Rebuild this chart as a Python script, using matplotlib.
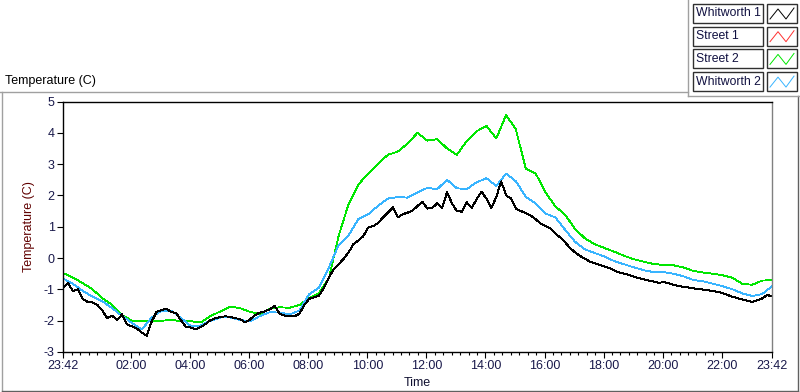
import numpy as np
import matplotlib
matplotlib.use("Agg")
import matplotlib.pyplot as plt
from matplotlib.lines import Line2D
from matplotlib.patches import Rectangle
from matplotlib.ticker import FixedLocator, FixedFormatter

# Fonte mais estreita, parecida com a do painel original
plt.rcParams["font.family"] = ["Liberation Sans", "DejaVu Sans"]

# Nomes das séries (legenda) e cores
nomes = ["Whitworth 1", "Street 1", "Street 2", "Whitworth 2"]
cores = ["#000000", "#ff3030", "#00e600", "#38b4ff"]

# Rótulos do eixo do tempo (início 23:42, ticks a cada 2 horas, fim 23:42)
rotulos_tempo = ["23:42", "02:00", "04:00", "06:00", "08:00", "10:00", "12:00",
                 "14:00", "16:00", "18:00", "20:00", "22:00", "23:42"]

# Whitworth 1: leitura a cada 10 minutos desde 23:42
whitworth1 = [
    -0.95, -0.80, -1.05, -1.00, -1.30, -1.40, -1.42, -1.50, -1.68, -1.92,
    -1.84, -1.98, -1.80, -2.12, -2.18, -2.25, -2.38, -2.48, -2.03, -1.72,
    -1.66, -1.62, -1.72, -1.76, -2.00, -2.20, -2.22, -2.28, -2.20, -2.10,
    -1.98, -1.92, -1.88, -1.86, -1.88, -1.92, -1.95, -2.06, -1.96, -1.82,
    -1.74, -1.70, -1.64, -1.53, -1.78, -1.84, -1.86, -1.86, -1.78, -1.50,
    -1.30, -1.25, -1.20, -0.95, -0.62, -0.35, -0.20, -0.02, 0.18, 0.45,
    0.56, 0.70, 0.98, 1.02, 1.12, 1.30, 1.45, 1.62, 1.30, 1.40,
    1.45, 1.52, 1.66, 1.80, 1.58, 1.60, 1.75, 1.60, 2.10, 1.75,
    1.50, 1.48, 1.78, 1.60, 1.88, 2.12, 1.90, 1.60, 1.95, 2.45,
    2.00, 1.90, 1.58, 1.50, 1.44, 1.36, 1.24, 1.10, 1.02, 0.95,
    0.78, 0.66, 0.50, 0.32, 0.18, 0.07, -0.02, -0.11, -0.16, -0.22,
    -0.27, -0.32, -0.40, -0.46, -0.50, -0.54, -0.60, -0.64, -0.68, -0.72,
    -0.75, -0.79, -0.77, -0.80, -0.86, -0.89, -0.92, -0.94, -0.97, -0.98,
    -1.01, -1.03, -1.05, -1.08, -1.12, -1.18, -1.24, -1.28, -1.32, -1.36,
    -1.40, -1.35, -1.29, -1.18, -1.22,
]

# Street 1: sem dados visíveis no gráfico
street1 = []

# Street 2: leitura a cada 20 minutos desde 23:42
street2 = [
    -0.48, -0.62, -0.80, -1.00, -1.28, -1.50, -1.82, -2.00, -2.01, -2.01,
    -2.00, -1.98, -2.01, -2.02, -2.05, -1.85, -1.70, -1.55, -1.60, -1.72,
    -1.78, -1.62, -1.57, -1.59, -1.50, -1.28, -1.12, -0.65, 0.72, 1.72,
    2.35, 2.70, 3.02, 3.30, 3.40, 3.66, 4.00, 3.75, 3.80, 3.50,
    3.30, 3.74, 4.05, 4.22, 3.82, 4.57, 4.10, 2.85, 2.70, 2.10,
    1.65, 1.38, 0.93, 0.63, 0.44, 0.32, 0.20, 0.07, -0.04, -0.12,
    -0.19, -0.22, -0.23, -0.30, -0.41, -0.46, -0.50, -0.55, -0.63, -0.83,
    -0.85, -0.72, -0.70,
]

# Whitworth 2: leitura a cada 20 minutos desde 23:42
whitworth2 = [
    -0.65, -0.82, -1.05, -1.23, -1.38, -1.60, -1.85, -2.07, -2.28, -1.90,
    -1.68, -1.68, -1.92, -2.18, -2.15, -2.00, -1.90, -1.90, -1.98, -2.02,
    -1.85, -1.73, -1.74, -1.80, -1.68, -1.15, -0.94, -0.30, 0.42, 0.72,
    1.25, 1.40, 1.67, 1.90, 1.95, 1.93, 2.10, 2.24, 2.20, 2.50,
    2.23, 2.20, 2.42, 2.55, 2.30, 2.70, 2.45, 1.95, 1.75, 1.42,
    1.30, 0.90, 0.52, 0.28, 0.16, 0.05, -0.10, -0.20, -0.30, -0.39,
    -0.45, -0.45, -0.50, -0.58, -0.70, -0.74, -0.82, -0.90, -1.00, -1.13,
    -1.21, -1.15, -0.90,
]


def fx(x):
    # Converte pixel horizontal em coordenada da figura
    return x / 800


def fy(y):
    # Converte pixel vertical em coordenada da figura
    return 1 - y / 392


def desenhar_moldura(fig):
    # Linhas cinzas da moldura do painel (estilo LabVIEW)
    cinza = "#a0a0a0"
    fig.add_artist(Line2D([fx(0), fx(688)], [fy(91.5), fy(91.5)], color=cinza, lw=1))
    fig.add_artist(Line2D([fx(1.5), fx(1.5)], [fy(91.5), fy(390.5)], color=cinza, lw=1))
    fig.add_artist(Line2D([fx(1.5), fx(797.5)], [fy(390.5), fy(390.5)], color="#606060", lw=1))
    fig.add_artist(Line2D([fx(797.5), fx(797.5)], [fy(95.5), fy(390.5)], color="#606060", lw=1))
    fig.add_artist(Line2D([fx(688), fx(688)], [fy(0), fy(95.5)], color=cinza, lw=1))
    fig.add_artist(Line2D([fx(688), fx(800)], [fy(95.5), fy(95.5)], color=cinza, lw=1))

    # Título do gráfico no canto superior esquerdo
    fig.text(fx(5), fy(81), "Temperature (C)", fontsize=9, color="#000000",
             ha="left", va="center")


def desenhar_legenda(fig):
    # Legenda com caixas de texto e amostras em zigue-zague
    for i, (nome, cor) in enumerate(zip(nomes, cores)):
        topo = 4 + i * 22.7
        alt = 19
        fig.add_artist(Rectangle((fx(693), fy(topo + alt)), fx(763) - fx(693),
                                 fy(topo) - fy(topo + alt), fill=True,
                                 facecolor="white", edgecolor="#303030", lw=1))
        fig.text(fx(695.5), fy(topo + alt / 2), nome, fontsize=8.8, color="#101040",
                 ha="left", va="center")
        fig.add_artist(Rectangle((fx(767), fy(topo + alt)), fx(797) - fx(767),
                                 fy(topo) - fy(topo + alt), fill=True,
                                 facecolor="white", edgecolor="#303030", lw=1))
        zx = [770, 778, 786, 794]
        zy = [topo + 15, topo + 5, topo + 15, topo + 4]
        fig.add_artist(Line2D([fx(v) for v in zx], [fy(v) for v in zy],
                              color=cor, lw=0.7))


def gerar_grafico():
    # Figura do mesmo tamanho da referência
    fig = plt.figure(figsize=(8, 3.92), dpi=100)
    ax = fig.add_axes([fx(63), fy(352), fx(772) - fx(63), fy(101.5) - fy(352)])

    # Eixos de tempo (horas desde 23:42) para cada série
    t_10min = np.arange(len(whitworth1)) / 6
    t_20min = np.arange(len(street2)) / 3

    # Plota as séries
    ax.plot(t_20min, street2, color=cores[2], lw=0.6, antialiased=False)
    ax.plot(t_20min, whitworth2, color=cores[3], lw=0.6, antialiased=False)
    ax.plot(t_10min, whitworth1, color=cores[0], lw=0.7, antialiased=False)

    # Limites dos eixos
    ax.set_xlim(0, 24)
    ax.set_ylim(-3, 5)

    # Ticks principais do tempo: início, 02:00 ... 22:00, fim
    pos_maiores = [0] + [h + 0.3 for h in range(2, 24, 2)] + [24]
    ax.xaxis.set_major_locator(FixedLocator(pos_maiores))
    ax.xaxis.set_major_formatter(FixedFormatter(rotulos_tempo))
    pos_menores = [2.3 + k * 2 / 7 for k in range(-8, 70) if 0 <= 2.3 + k * 2 / 7 <= 24]
    ax.xaxis.set_minor_locator(FixedLocator(pos_menores))

    # Ticks do eixo de temperatura
    ax.set_yticks(range(-3, 6))
    ax.set_yticklabels([str(v) for v in range(-3, 6)])

    # Estilo dos ticks
    cor_texto = "#18184a"
    ax.tick_params(axis="both", which="major", direction="out", length=4,
                   width=0.8, labelsize=9, labelcolor=cor_texto, pad=2)
    ax.tick_params(axis="x", which="minor", direction="out", length=2.5, width=0.8)

    # Bordas da área do gráfico
    ax.spines["top"].set_color("#000000")
    ax.spines["left"].set_color("#000000")
    ax.spines["bottom"].set_color("#000000")
    ax.spines["right"].set_color("#808080")
    for s in ax.spines.values():
        s.set_linewidth(1)

    # Rótulos dos eixos
    ax.set_xlabel("Time", fontsize=9, color="#101030", labelpad=3)
    ax.set_ylabel("Temperature (C)", fontsize=9, color="#600000", labelpad=6)

    desenhar_moldura(fig)
    desenhar_legenda(fig)

    # Salva a figura
    fig.savefig("out.png", dpi=100)
    plt.close(fig)


if __name__ == "__main__":
    gerar_grafico()
